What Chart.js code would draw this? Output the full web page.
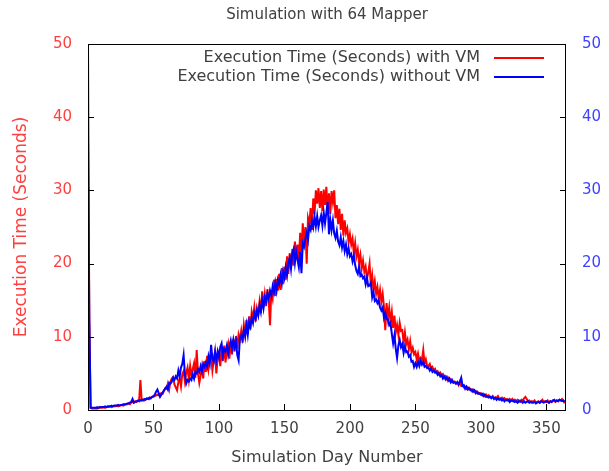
<!DOCTYPE html>
<html>
<head>
<meta charset="utf-8">
<script src="https://cdn.jsdelivr.net/npm/chart.js@4/dist/chart.umd.min.js"></script>
<style>
  html, body { margin: 0; padding: 0; background: #fff; }
  #wrap { width: 609px; height: 471px; }
</style>
</head>
<body>
<div id="wrap"><canvas id="simChart" width="609" height="471"></canvas></div>
<script>
// execution time per simulation day (day 0 .. 364)
const withVM = [
  50, 12.5, 0.3, 0.2, 0.2, 0.2, 0.3, 0.2, 0.3, 0.3,
  0.3, 0.3, 0.4, 0.3, 0.4, 0.4, 0.4, 0.5, 0.4, 0.5,
  0.5, 0.5, 0.6, 0.5, 0.6, 0.6, 0.7, 0.6, 0.7, 0.8,
  0.8, 0.9, 0.8, 1.0, 1.1, 1.0, 1.2, 1.1, 1.3, 1.2,
  4.1, 1.3, 1.4, 1.3, 1.5, 1.5, 1.6, 1.5, 1.7, 1.8,
  1.8, 1.9, 2.0, 2.1, 2.0, 2.2, 2.3, 2.2, 2.6, 3.0,
  2.9, 3.6, 2.8, 3.9, 4.3, 4.5, 3.5, 3.1, 2.7, 3.8,
  4.3, 3.2, 4.9, 5.3, 3.9, 5.1, 5.8, 4.2, 6.0, 4.6,
  5.6, 6.4, 4.4, 8.2, 5.0, 3.7, 4.7, 5.9, 4.3, 6.7,
  5.2, 7.4, 5.6, 6.9, 7.5, 5.4, 6.8, 8.0, 5.0, 7.1,
  7.8, 6.0, 8.3, 6.7, 8.8, 6.5, 8.1, 9.0, 7.0, 9.4,
  7.6, 9.7, 8.0, 10.1, 8.4, 10.3, 9.6, 10.8, 9.2, 11.6,
  10.2, 12.3, 10.4, 12.8, 11.0, 13.4, 12.5, 14.0, 12.1, 13.9,
  13.1, 14.8, 13.3, 16.2, 14.0, 15.8, 14.2, 16.5, 15.0, 11.6,
  16.4, 15.3, 17.8, 15.6, 17.9, 16.3, 18.6, 16.4, 19.4, 17.2,
  19.6, 17.8, 21.0, 18.6, 21.4, 19.2, 22.0, 19.7, 23.0, 20.6,
  22.6, 20.1, 24.2, 21.6, 25.5, 22.4, 25.0, 20.0, 26.2, 25.4,
  27.6, 24.6, 28.9, 26.8, 30.0, 28.2, 30.3, 27.6, 29.9, 27.2,
  30.1, 28.0, 30.5, 27.2, 29.6, 26.8, 29.9, 28.4, 30.0, 26.2,
  28.0, 25.4, 27.5, 24.6, 26.8, 23.8, 25.9, 24.2, 24.8, 22.9,
  24.0, 22.6, 23.4, 21.4, 22.8, 21.0, 21.9, 20.2, 21.2, 19.3,
  20.4, 18.9, 19.6, 17.9, 18.8, 20.0, 17.0, 18.4, 16.4, 17.6,
  15.9, 16.8, 15.2, 16.4, 14.8, 15.9, 14.1, 10.9, 14.6, 12.6,
  14.0, 12.0, 13.4, 11.2, 12.9, 10.6, 11.6, 10.3, 11.9, 10.8,
  10.9, 9.2, 10.6, 9.0, 9.6, 8.3, 9.4, 7.9, 8.5, 7.6,
  7.9, 6.9, 7.7, 6.7, 7.1, 6.8, 8.2, 6.3, 6.9, 6.0,
  6.0, 6.3, 5.7, 5.9, 5.4, 5.6, 5.1, 5.3, 4.9, 5.1,
  4.7, 4.9, 4.4, 4.6, 4.2, 4.4, 4.0, 4.2, 3.8, 3.9,
  3.9, 3.6, 3.8, 3.4, 3.8, 3.3, 3.4, 3.1, 3.2, 2.9,
  3.1, 2.8, 2.9, 2.6, 2.8, 2.5, 2.6, 2.3, 2.4, 2.2,
  2.3, 2.0, 2.2, 1.9, 2.1, 1.8, 2.0, 1.8, 1.7, 1.9,
  1.7, 1.6, 1.7, 1.9, 1.5, 1.6, 1.7, 1.4, 1.6, 1.4,
  1.5, 1.3, 1.5, 1.3, 1.5, 1.2, 1.4, 1.2, 1.4, 1.3,
  1.2, 1.4, 1.3, 1.6, 1.8, 1.5, 1.2, 1.3, 1.1, 1.2,
  1.1, 1.3, 1.0, 1.1, 1.2, 1.0, 1.2, 1.4, 1.1, 1.2,
  1.1, 1.3, 1.0, 1.2, 1.1, 1.3, 1.2, 1.1, 1.3, 1.2,
  1.4, 1.3, 1.5, 1.3, 0.9
];

const withoutVM = [
  37.5, 12.5, 0.3, 0.3, 0.3, 0.3, 0.3, 0.4, 0.3, 0.4,
  0.4, 0.4, 0.4, 0.5, 0.4, 0.5, 0.5, 0.5, 0.6, 0.5,
  0.6, 0.6, 0.6, 0.7, 0.6, 0.7, 0.7, 0.8, 0.8, 0.8,
  0.9, 0.9, 1.0, 1.1, 1.5, 1.0, 1.1, 1.2, 1.2, 1.3,
  1.3, 1.4, 1.3, 1.5, 1.4, 1.6, 1.5, 1.7, 1.6, 1.8,
  1.9, 2.1, 2.5, 2.8, 2.3, 1.8, 2.1, 2.4, 2.7, 2.9,
  3.2, 2.8, 3.7, 3.6, 3.9, 4.4, 4.1, 4.6, 4.3, 5.4,
  4.6, 5.8, 6.3, 7.5, 4.9, 3.6, 4.1, 3.9, 4.3, 4.1,
  4.9, 4.3, 5.2, 5.0, 5.6, 5.2, 6.0, 5.3, 6.3, 5.9,
  6.5, 5.9, 7.3, 6.4, 8.9, 7.0, 6.6, 7.9, 6.8, 8.0,
  7.2, 8.6, 9.1, 7.4, 8.3, 8.0, 8.8, 7.6, 8.7, 9.5,
  8.4, 9.6, 8.6, 9.4, 7.5, 6.8, 9.9, 10.2, 9.6, 10.9,
  10.1, 11.6, 10.3, 12.0, 11.4, 12.6, 11.9, 13.2, 12.5, 13.6,
  12.9, 14.3, 13.4, 15.0, 13.9, 15.4, 14.8, 15.9, 15.2, 16.3,
  15.6, 16.9, 16.1, 17.4, 16.3, 17.8, 17.2, 18.4, 17.3, 18.9,
  18.1, 19.5, 18.4, 20.1, 20.8, 19.3, 21.4, 22.0, 20.1, 21.6,
  20.5, 19.5, 21.6, 18.7, 22.8, 22.3, 23.4, 24.2, 23.2, 25.1,
  24.6, 25.9, 25.0, 26.4, 25.1, 26.5, 25.0, 25.9, 26.6, 25.2,
  27.0, 25.5, 26.9, 28.4, 24.0, 26.0, 24.6, 25.9, 24.1, 23.5,
  24.5, 23.0, 22.5, 23.6, 22.2, 23.1, 21.7, 22.6, 21.3, 22.1,
  21.0, 21.3, 20.3, 21.1, 19.8, 19.0, 18.6, 19.6, 18.3, 18.5,
  18.0, 18.2, 17.2, 18.1, 16.9, 17.0, 17.4, 15.4, 16.1, 14.9,
  15.1, 14.6, 15.0, 14.0, 13.6, 14.0, 12.6, 13.3, 12.4, 12.4,
  11.6, 11.9, 10.4, 9.1, 10.2, 8.4, 7.1, 8.8, 9.6, 8.6,
  9.0, 7.8, 8.7, 7.9, 8.0, 7.3, 7.5, 6.6, 6.7, 5.9,
  6.4, 5.9, 6.6, 6.0, 6.7, 6.2, 6.6, 5.9, 6.0, 5.7,
  5.8, 5.4, 5.7, 5.2, 5.4, 5.1, 5.2, 4.8, 5.0, 4.6,
  4.8, 4.3, 4.6, 4.2, 4.5, 4.0, 4.3, 3.8, 4.1, 3.7,
  3.8, 3.6, 3.8, 3.5, 3.9, 4.4, 3.3, 3.4, 2.9, 3.2,
  2.8, 3.0, 2.7, 2.8, 2.5, 2.7, 2.3, 2.5, 2.2, 2.3,
  2.1, 2.2, 1.9, 2.1, 1.8, 1.9, 1.7, 1.8, 1.6, 1.8,
  1.5, 1.7, 1.4, 1.6, 1.4, 1.5, 1.3, 1.5, 1.2, 1.4,
  1.3, 1.4, 1.1, 1.3, 1.2, 1.3, 1.1, 1.2, 1.0, 1.2,
  1.1, 1.2, 1.0, 1.2, 1.0, 1.1, 1.2, 1.0, 1.1, 1.0,
  1.0, 1.1, 0.9, 1.0, 1.1, 1.0, 1.2, 1.1, 1.0, 1.1,
  1.2, 1.1, 1.0, 1.2, 1.1, 1.3, 1.4, 1.2, 1.3, 1.2,
  1.4, 1.3, 1.2, 1.3, 1.1
];

const xTicks = [0, 50, 100, 150, 200, 250, 300, 350];
const yTicks = [0, 10, 20, 30, 40, 50];

Chart.defaults.font.family = 'DejaVu Sans';

const textGrey = '#404040';
const redText = '#ff4040';
const blueText = '#4040ff';

// gnuplot style: full frame, ticks pointing inwards, legend in the top right corner
const gnuplotLook = {
  id: 'gnuplotLook',
  afterDraw(chart) {
    const { ctx, chartArea: a, scales } = chart;
    ctx.save();

    ctx.font = '15px DejaVu Sans';
    ctx.fillStyle = textGrey;
    ctx.textAlign = 'center';
    ctx.textBaseline = 'middle';
    ctx.fillText('Simulation with 64 Mapper', (a.left + a.right) / 2, 15);

    ctx.strokeStyle = '#000';
    ctx.lineWidth = 1;
    ctx.strokeRect(a.left + 0.5, a.top + 0.5, a.right - a.left - 1, a.bottom - a.top);

    ctx.beginPath();
    scales.x.ticks.forEach(t => {
      const px = Math.round(scales.x.getPixelForValue(t.value)) + 0.5;
      ctx.moveTo(px, a.bottom);
      ctx.lineTo(px, a.bottom - 6);
    });
    scales.y.ticks.forEach(t => {
      const py = Math.round(scales.y.getPixelForValue(t.value)) + 0.5;
      ctx.moveTo(a.left, py);
      ctx.lineTo(a.left + 6, py);
    });
    scales.y1.ticks.forEach(t => {
      const py = Math.round(scales.y1.getPixelForValue(t.value)) + 0.5;
      ctx.moveTo(a.right, py);
      ctx.lineTo(a.right - 6, py);
    });
    ctx.stroke();

    ctx.font = '16px DejaVu Sans';
    ctx.textAlign = 'right';
    chart.data.datasets.forEach((ds, i) => {
      const ly = a.top + 14 + i * 19;
      ctx.fillStyle = textGrey;
      ctx.fillText(ds.label, a.right - 86, ly);
      ctx.strokeStyle = ds.borderColor;
      ctx.lineWidth = 2;
      ctx.beginPath();
      ctx.moveTo(a.right - 72, ly);
      ctx.lineTo(a.right - 22, ly);
      ctx.stroke();
    });
    ctx.restore();
  }
};

const ctx = document.getElementById('simChart').getContext('2d');
const simChart = new Chart(ctx, {
  type: 'line',
  data: {
    datasets: [
      {
        label: 'Execution Time (Seconds) with VM',
        data: withVM.map((v, i) => ({ x: i, y: v })),
        borderColor: '#ff0000',
        borderWidth: 2,
        pointRadius: 0,
        tension: 0,
        order: 1
      },
      {
        label: 'Execution Time (Seconds) without VM',
        data: withoutVM.map((v, i) => ({ x: i, y: v })),
        borderColor: '#0000ff',
        borderWidth: 2,
        pointRadius: 0,
        tension: 0,
        order: 0
      }
    ]
  },
  options: {
    responsive: false,
    animation: false,
    devicePixelRatio: 1,
    layout: { padding: { top: 44, left: 0, right: 0, bottom: 0 } },
    plugins: {
      legend: { display: false },
      title: { display: false },
      tooltip: { enabled: false }
    },
    scales: {
      x: {
        type: 'linear',
        min: 0,
        max: 365,
        afterBuildTicks: s => { s.ticks = xTicks.map(v => ({ value: v })); },
        afterFit: s => { s.height = 61; },
        grid: { display: false, drawTicks: false },
        border: { display: false },
        ticks: { color: textGrey, font: { size: 15 }, padding: 10, maxRotation: 0 },
        title: {
          display: true,
          text: 'Simulation Day Number',
          color: textGrey,
          font: { size: 16 },
          padding: { top: 0, bottom: 4 }
        }
      },
      y: {
        position: 'left',
        min: 0,
        max: 50,
        afterBuildTicks: s => { s.ticks = yTicks.map(v => ({ value: v })); },
        afterFit: s => { s.width = 88; },
        grid: { display: false, drawTicks: false },
        border: { display: false },
        ticks: { color: redText, font: { size: 15 }, padding: 16 },
        title: {
          display: true,
          text: 'Execution Time (Seconds)',
          color: redText,
          font: { size: 17 },
          padding: { top: 11, bottom: 0 }
        }
      },
      y1: {
        position: 'right',
        min: 0,
        max: 50,
        afterBuildTicks: s => { s.ticks = yTicks.map(v => ({ value: v })); },
        afterFit: s => { s.width = 43; },
        grid: { display: false, drawTicks: false },
        border: { display: false },
        ticks: { color: blueText, font: { size: 15 }, padding: 16 }
      }
    }
  },
  plugins: [gnuplotLook]
});
</script>
</body>
</html>
